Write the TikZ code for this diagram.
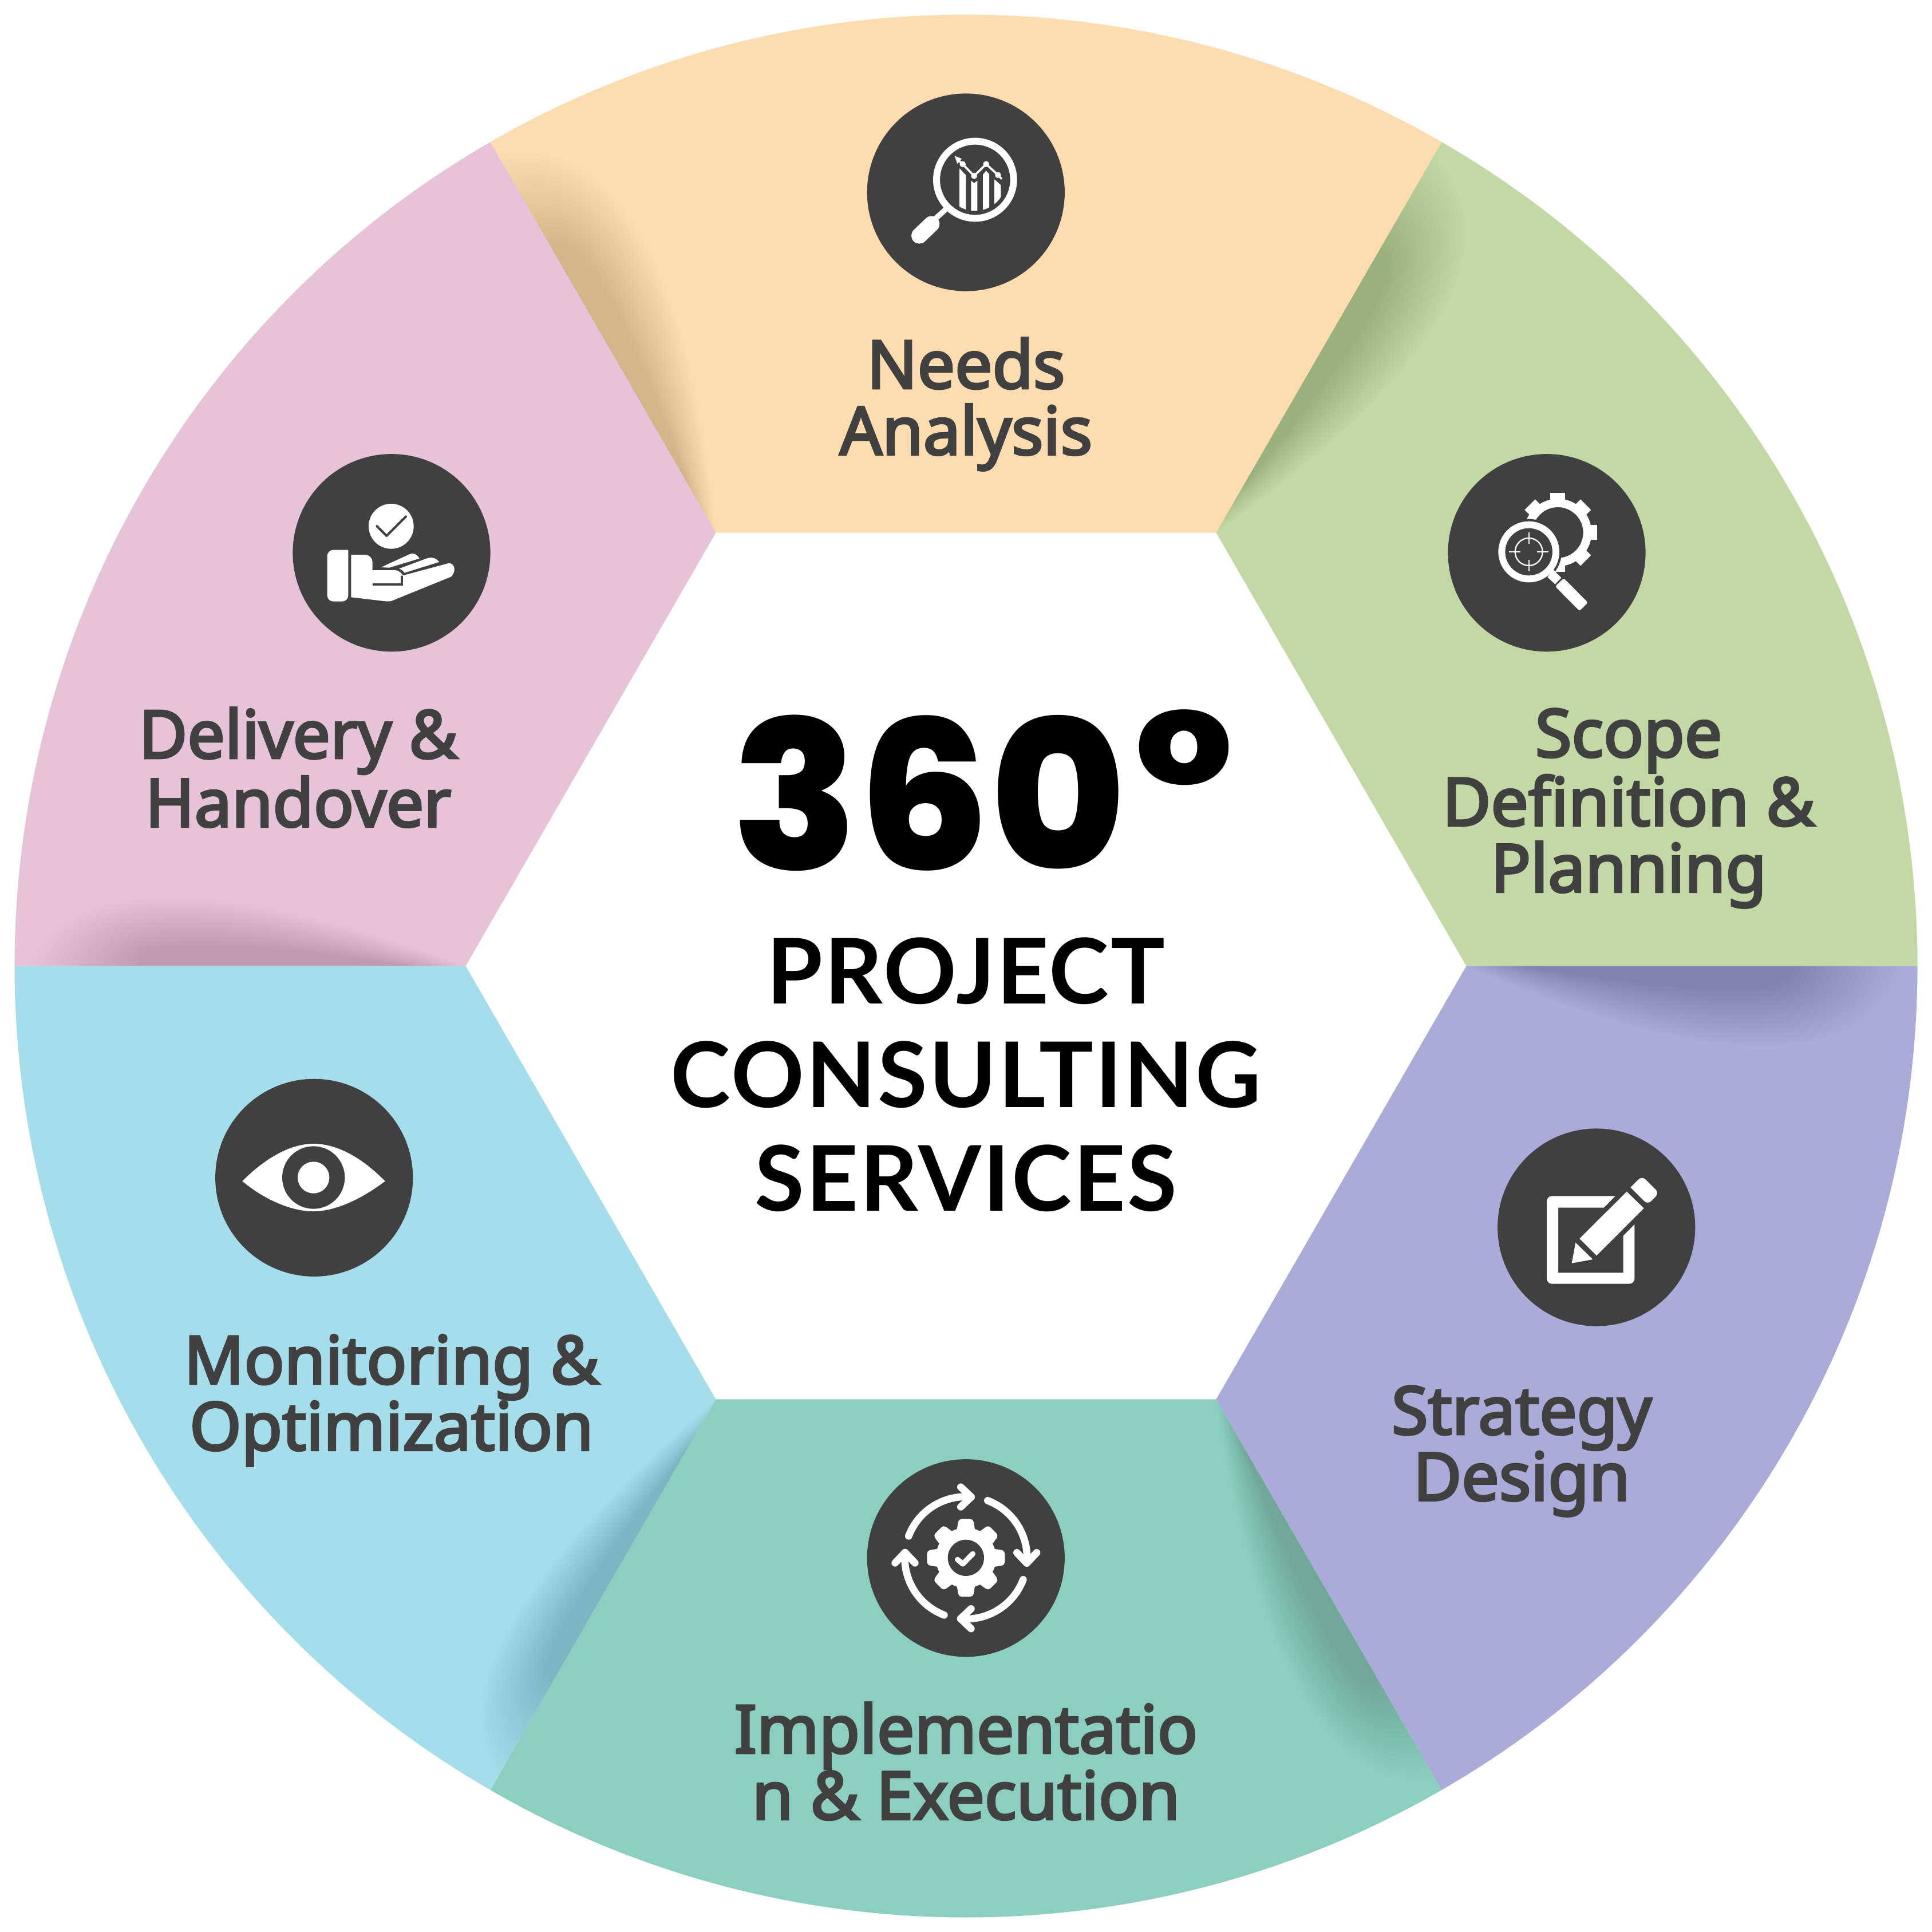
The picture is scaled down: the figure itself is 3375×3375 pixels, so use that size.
\documentclass[tikz,border=0pt]{standalone}
\usepackage{fontspec}
\setmainfont{Noto Sans}[FakeBold=3.5]
\newfontfamily\bigfont{Poppins}[UprightFont=* ExtraBold]
\newfontfamily\subfont{Lato}[UprightFont=* Bold,LetterSpace=2]
\definecolor{needscol}{HTML}{FDDCB0}
\definecolor{scopecol}{HTML}{C2D9A5}
\definecolor{stratcol}{HTML}{ABABD9}
\definecolor{implcol}{HTML}{8CCFC0}
\definecolor{monitcol}{HTML}{A5DDEA}
\definecolor{delivcol}{HTML}{E6C3D9}
\definecolor{darkcol}{HTML}{404040}
\newcommand{\zw}{0.0948pt}
\tikzset{
  disc/.style={circle,fill=darkcol,minimum size=3.45cm,inner sep=0pt},
  stagetext/.style={anchor=base,align=center,text=darkcol,inner sep=0pt,font=\fontsize{33}{32.9}\selectfont},
  centertext/.style={anchor=base,align=center,text=black,inner sep=0pt,font=\fontsize{45}{51.4}\selectfont\subfont},
  bigtext/.style={anchor=base west,text=black,inner sep=0pt,font=\fontsize{103}{103}\bigfont},
  iconbox/.style={shift={(#1)},scale=1/3},
  softshade/.style={black,opacity=.0075},
}
\begin{document}
\begin{tikzpicture}[x=.01cm,y=-.01cm]
\useasboundingbox (0,0) rectangle (3375,3375);
\begin{scope}[y=.01cm,shift={(1687.5,-1687.5)}]
\foreach \a/\col in {60/needscol,0/scopecol,-60/stratcol,-120/implcol,180/monitcol,120/delivcol}
  \fill[\col] (\a:874) -- (\a:1662) arc[start angle=\a,delta angle=60,radius=1662] -- (\a+60:874) -- cycle;
\foreach \a/\h in {120/145,60/150,0/140,-60/125,-120/115,180/120}
  \foreach \k in {8,...,27}
    \fill[softshade,rotate=\a] ({1635-(27-\k)*10},0) .. controls ({1570-(27-\k)*6},{-\k*\h/20.25}) and (1300,{-\k*\h/20.25}) .. ({874+(27-\k)*5},0) -- cycle;
\end{scope}

\node[disc] (needsdisc) at (1687.3,336) {};
\node[disc] (scopedisc) at (2702,965.7) {};
\node[disc] (delivdisc) at (684,965.7) {};
\node[disc] (impldisc) at (1687.3,2721.7) {};
\node[disc] (stratdisc) at (2788.7,2144) {};
\node[disc] (monitdisc) at (548.7,2057.3) {};

% magnifier with chart
\begin{scope}[iconbox={1500,150}]
\draw[white,line width=36*\zw] (610,492) circle (202);
\draw[white,line width=28*\zw] (455,648) -- (400,698);
\draw[white,line width=84*\zw,line cap=round] (318,785) -- (382,724);
\begin{scope}
\clip (610,492) circle (163);
\fill[white] (528,432) -- (562,468) -- (562,680) -- (528,680) -- cycle;
\fill[white] (589,497) -- (605,510) -- (622,497) -- (622,680) -- (589,680) -- cycle;
\fill[white] (651,465) -- (668,445) -- (684,462) -- (684,680) -- (651,680) -- cycle;
\fill[white] (711,490) -- (745,520) -- (745,680) -- (711,680) -- cycle;
\end{scope}
\draw[white,line width=11*\zw] (525,392) -- (545,410) -- (605,472) -- (668,410) -- (730,467) -- (750,488);
\fill[white] (503,367) -- (540,382) -- (517,408) -- cycle;
\foreach \x/\y in {545/410,605/472,668/410,730/467}
  \fill[white] (\x,\y) circle (16);
\end{scope}

% gear with magnifier
\begin{scope}[iconbox={2520,780}]
\draw[white,line width=44*\zw] (604,451) circle (155);
\foreach \r in {0,45,...,315}
  \fill[white,shift={(604,451)},rotate=\r] (-39,-170) rectangle (39,-207);
\fill[darkcol] (452,552) circle (172);
\draw[white,line width=36*\zw] (452,552) circle (142);
\draw[white,line width=7*\zw] (452,552) circle (72);
\draw[white,line width=7*\zw] (452,450) -- (452,510) (452,595) -- (452,655);
\draw[white,line width=7*\zw] (348,552) -- (408,552) (495,552) -- (555,552);
\fill[white] (550,685) -- (580,645) -- (622,688) -- (590,722) -- cycle;
\fill[white,rounded corners=1pt] (635,690) -- (762,818) -- (718,862) -- (590,733) -- cycle;
\end{scope}

% hand with check
\begin{scope}[iconbox={500,780}]
\fill[white] (550,418) circle (118);
\draw[darkcol,line width=12*\zw,line cap=round,line join=round] (475,417) -- (526,468) -- (627,367);
\fill[white,rounded corners=3pt] (325,542) -- (215,542) -- (215,812) -- (325,812) [sharp corners] -- cycle;
\fill[white] (340,567) -- (410,567) .. controls (435,567) and (452,585) .. (452,605) -- (452,648)
  -- (570,648) .. controls (590,648) and (605,665) .. (612,676) -- (850,612)
  .. controls (880,608) and (895,650) .. (865,682) -- (550,810) -- (530,812) -- (340,790) -- cycle;
\fill[white] (497,633) -- (645,565) .. controls (670,555) and (685,565) .. (698,587) -- (540,635) -- cycle;
\fill[white] (592,640) -- (735,587) .. controls (770,575) and (790,590) .. (802,605) -- (620,662) .. controls (612,652) and (605,645) .. (592,640) -- cycle;
\draw[darkcol,line width=12*\zw,line cap=round] (458,722) -- (607,722) -- (607,682);
\end{scope}

% gear with arrows
\begin{scope}[iconbox={1500,2530}]
\foreach \r in {0,90,180,270} {
  \begin{scope}[shift={(562,574)},rotate=\r]
  \draw[white,line width=38*\zw,line cap=round] (-300,-114) arc[start angle=-159.2,end angle=-85,radius=320];
  \draw[white,line width=38*\zw,line cap=round,line join=round] (-27,-371) -- (28,-319) -- (-27,-267);
  \end{scope}
}
\fill[white] (562,574) circle (158);
\foreach \r in {0,45,...,315}
  \fill[white,shift={(562,574)},rotate=\r,rounded corners=1.5pt] (-50,-130) -- (-38,-204) -- (38,-204) -- (50,-130) -- cycle;
\fill[darkcol] (562,574) circle (95);
\draw[white,line width=28*\zw,line cap=round,line join=round] (518,583) -- (546,606) -- (598,553);
\end{scope}

% pencil in box
\begin{scope}[iconbox={2600,1960}]
\fill[white] [rounded corners=2.6pt] (665,388) -- (306,388) -- (306,848) -- (766,848) [sharp corners] -- (766,537)
  -- (707,596) -- (707,790) -- (366,790) -- (366,449) -- (605,449) -- cycle;
\fill[white] (725,365) -- (815,452) -- (567,700) -- (478,611) -- cycle;
\fill[white] (457,632) -- (547,720) -- (437,740) -- cycle;
\fill[white,rounded corners=2.4pt] (745,343) -- (805,283) -- (895,372) -- (835,433) [sharp corners] -- cycle;
\end{scope}

% eye
\begin{scope}[iconbox={370,1870}]
\fill[white] (160,580) .. controls (290,450) and (420,384) .. (533,384) .. controls (650,384) and (780,450) .. (908,580)
  .. controls (790,670) and (650,738) .. (533,738) .. controls (420,738) and (280,680) .. (160,580) -- cycle;
\fill[darkcol] (533,561) circle (164);
\fill[white] (533,561) circle (83);
\end{scope}

\node[stagetext] (needstext) at (1687.5,794) {Needs\\Analysis};
\node[stagetext] (scopetext) at (2845,1558) {Scope\\Definition \&\\Planning};
\node[stagetext] (delivtext) at (521,1444) {Delivery \&\\Handover};
\node[stagetext] (strattext) at (2658,2621) {Strategy\\Design};
\node[stagetext] (impltext) at (1687.5,3178) {Implementatio\\n \& Execution};
\node[stagetext] (monittext) at (684,2533) {Monitoring \&\\Optimization};

\node[bigtext] (bigtitle) at (1278,1519) {360\kern 4pt\raisebox{6pt}{°}};
\node[centertext] (subtitle) at (1687.5,2115) {PROJECT\\CONSULTING\\SERVICES};
\end{tikzpicture}
\end{document}
